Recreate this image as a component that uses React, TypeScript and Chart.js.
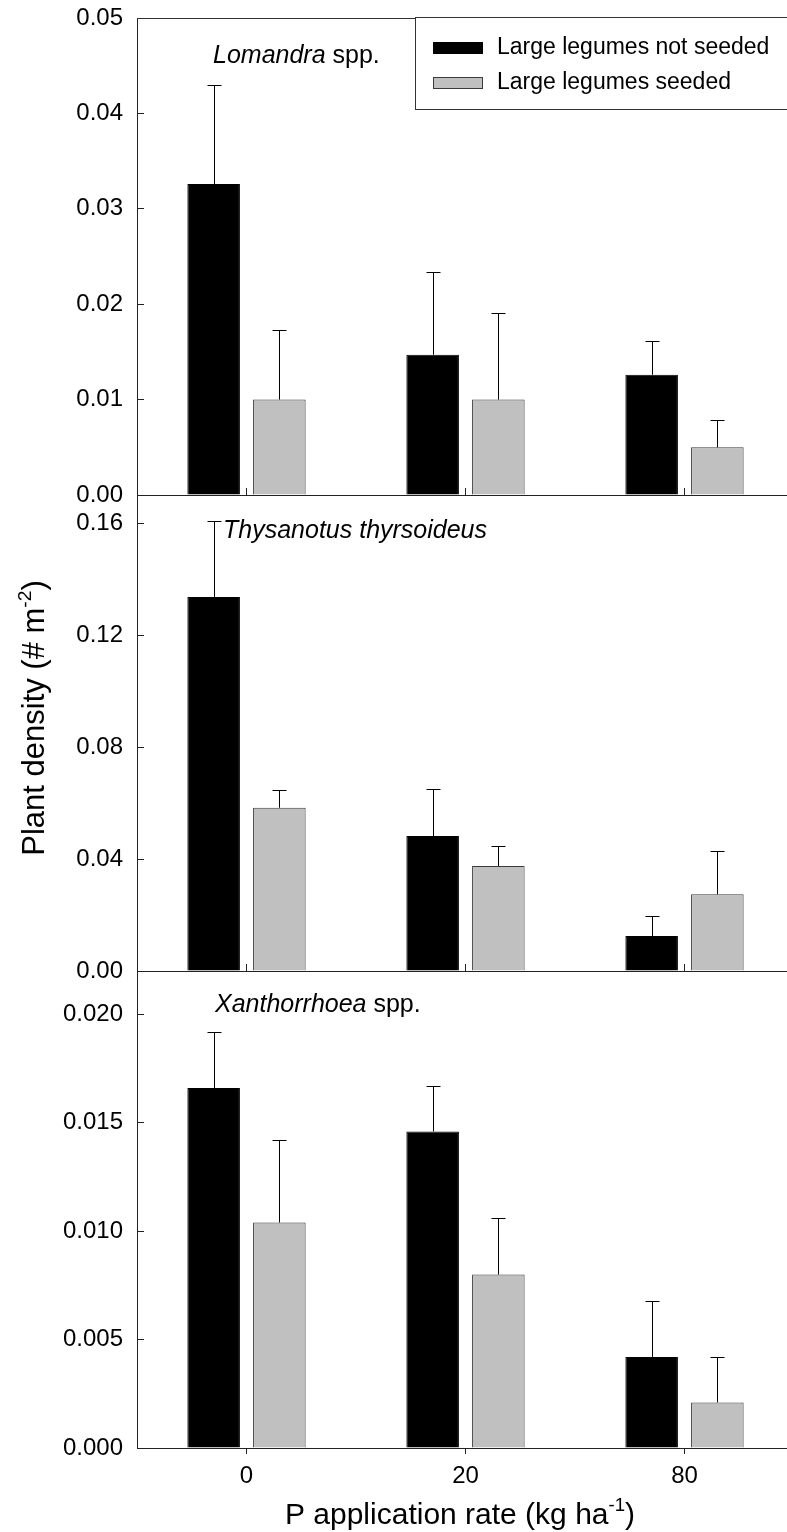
import React, { useEffect, useRef } from "react";
import { Chart, registerables } from "chart.js";

Chart.register(...registerables);

const FONT = '"Liberation Sans", Arial, Helvetica, sans-serif';

// ---------- data ----------
const categories = ["0", "20", "80"];
const seriesLabels = ["Large legumes not seeded", "Large legumes seeded"];

const lomandraNotSeeded = [0.0326, 0.0147, 0.0126];
const lomandraNotSeededErr = [0.0104, 0.0087, 0.0035];
const lomandraSeeded = [0.01, 0.01, 0.005];
const lomandraSeededErr = [0.0073, 0.0091, 0.0029];
const lomandraTicks = [0, 0.01, 0.02, 0.03, 0.04, 0.05];

const thysanotusNotSeeded = [0.1336, 0.0482, 0.0125];
const thysanotusNotSeededErr = [0.0272, 0.0168, 0.0073];
const thysanotusSeeded = [0.0583, 0.0375, 0.0274];
const thysanotusSeededErr = [0.0063, 0.0073, 0.0156];
const thysanotusTicks = [0, 0.04, 0.08, 0.12, 0.16];

const xanthorrhoeaNotSeeded = [0.0166, 0.0146, 0.0042];
const xanthorrhoeaNotSeededErr = [0.0026, 0.0021, 0.0026];
const xanthorrhoeaSeeded = [0.0104, 0.008, 0.0021];
const xanthorrhoeaSeededErr = [0.0038, 0.0026, 0.0021];
const xanthorrhoeaTicks = [0, 0.005, 0.01, 0.015, 0.02];

type Part = { t: string; italic?: boolean; sup?: boolean };

function drawRich(
  ctx: CanvasRenderingContext2D,
  parts: Part[],
  x: number,
  y: number,
  size: number,
  align: "left" | "center"
) {
  const supSize = size * 0.62;
  const fontFor = (p: Part) =>
    `${p.italic ? "italic " : ""}${p.sup ? supSize : size}px ${FONT}`;
  let total = 0;
  for (const p of parts) {
    ctx.font = fontFor(p);
    total += ctx.measureText(p.t).width;
  }
  let cx = align === "center" ? x - total / 2 : x;
  ctx.textAlign = "left";
  ctx.textBaseline = "alphabetic";
  for (const p of parts) {
    ctx.font = fontFor(p);
    ctx.fillText(p.t, cx, p.sup ? y - size * 0.42 : y);
    cx += ctx.measureText(p.t).width;
  }
}

type PanelProps = {
  top: number;
  height: number;
  padTop: number;
  padBottom: number;
  notSeeded: number[];
  notSeededErr: number[];
  seeded: number[];
  seededErr: number[];
  ticks: number[];
  max: number;
  decimals: number;
  label: Part[];
  labelX: number;
  labelY: number;
  showXLabels?: boolean;
  legend?: boolean;
  frameTop?: boolean;
  yTitle?: boolean;
  xTitle?: boolean;
};

function Panel(props: PanelProps) {
  const ref = useRef<HTMLCanvasElement | null>(null);
  useEffect(() => {
    const canvas = ref.current;
    if (!canvas) return;
    const {
      top, padTop, padBottom, notSeeded, notSeededErr, seeded, seededErr,
      ticks, max, decimals, label, labelX, labelY, showXLabels, legend,
      frameTop, yTitle, xTitle,
    } = props;

    const errorBars = {
      id: "errorBars",
      afterDatasetsDraw(chart: any) {
        const ctx: CanvasRenderingContext2D = chart.ctx;
        const ys = chart.scales.y;
        chart.data.datasets.forEach((ds: any, i: number) => {
          const meta = chart.getDatasetMeta(i);
          meta.data.forEach((bar: any, j: number) => {
            const v = ds.data[j];
            const e = ds.errors[j];
            const yTop = Math.round(ys.getPixelForValue(v + e)) + 0.5;
            const yBar = ys.getPixelForValue(v);
            const x = Math.round(bar.x) + 0.5;
            ctx.save();
            ctx.strokeStyle = "#000";
            ctx.lineWidth = 1;
            ctx.beginPath();
            ctx.moveTo(x, yBar);
            ctx.lineTo(x, yTop);
            ctx.moveTo(x - 7, yTop);
            ctx.lineTo(x + 7, yTop);
            ctx.stroke();
            ctx.restore();
          });
        });
      },
    };

    const decor = {
      id: "decor",
      afterDraw(chart: any) {
        const ctx: CanvasRenderingContext2D = chart.ctx;
        const ca = chart.chartArea;
        ctx.save();
        ctx.fillStyle = "#000";
        if (frameTop) {
          ctx.strokeStyle = "#333";
          ctx.lineWidth = 1;
          ctx.beginPath();
          ctx.moveTo(ca.left, Math.round(ca.top) + 0.5);
          ctx.lineTo(chart.width, Math.round(ca.top) + 0.5);
          ctx.stroke();
        }
        drawRich(ctx, label, labelX, labelY - top, 25, "left");
        if (legend) {
          const bx = 415.5;
          const by = 17.5 - top;
          ctx.fillStyle = "#fff";
          ctx.fillRect(bx, by, chart.width - bx + 5, 92);
          ctx.strokeStyle = "#333";
          ctx.lineWidth = 1;
          ctx.strokeRect(bx, by, chart.width - bx + 5, 92);
          const rows = [48, 83];
          chart.data.datasets.forEach((ds: any, i: number) => {
            const cy = rows[i] - top;
            ctx.fillStyle = ds.backgroundColor;
            ctx.fillRect(433, cy - 6, 50, 12);
            ctx.strokeStyle = ds.borderColor;
            ctx.strokeRect(433.5, cy - 5.5, 49, 11);
            ctx.fillStyle = "#000";
            ctx.font = `23px ${FONT}`;
            ctx.textAlign = "left";
            ctx.textBaseline = "middle";
            ctx.fillText(ds.label, 497, cy);
          });
        }
        if (yTitle) {
          ctx.save();
          ctx.fillStyle = "#000";
          ctx.translate(44, 718 - top);
          ctx.rotate(-Math.PI / 2);
          drawRich(
            ctx,
            [{ t: "Plant density (# m" }, { t: "-2", sup: true }, { t: ")" }],
            0, 0, 31, "center"
          );
          ctx.restore();
        }
        if (xTitle) {
          ctx.fillStyle = "#000";
          drawRich(
            ctx,
            [{ t: "P application rate (kg ha" }, { t: "-1", sup: true }, { t: ")" }],
            460, 1524 - top, 30, "center"
          );
        }
        ctx.restore();
      },
    };

    const chart = new Chart(canvas, {
      type: "bar",
      data: {
        labels: categories,
        datasets: [
          {
            label: seriesLabels[0],
            data: notSeeded,
            errors: notSeededErr,
            backgroundColor: "#000000",
            borderColor: "#000000",
            borderWidth: 1,
            categoryPercentage: 0.6,
            barPercentage: 0.8,
          } as any,
          {
            label: seriesLabels[1],
            data: seeded,
            errors: seededErr,
            backgroundColor: "#c0c0c0",
            borderColor: "#3a3a3a",
            borderWidth: 1,
            categoryPercentage: 0.6,
            barPercentage: 0.8,
          } as any,
        ],
      },
      options: {
        responsive: false,
        animation: false,
        devicePixelRatio: 1,
        layout: { padding: { top: padTop, bottom: padBottom, left: 0, right: 6 } },
        plugins: { legend: { display: false }, tooltip: { enabled: false } },
        scales: {
          x: {
            type: "category",
            offset: true,
            grid: {
              offset: false,
              drawOnChartArea: false,
              drawTicks: true,
              tickLength: showXLabels ? 6 : -7,
              color: "#222",
            },
            border: { display: true, color: "#222", width: 1 },
            ticks: {
              display: !!showXLabels,
              padding: 8,
              color: "#000",
              font: { family: FONT, size: 24 },
            },
            afterFit: (s: any) => {
              s.height = showXLabels ? 84 : 0;
            },
          },
          y: {
            type: "linear",
            min: 0,
            max: max,
            grid: { drawOnChartArea: false, tickLength: -7, color: "#222" },
            border: { display: true, color: "#222", width: 1 },
            ticks: {
              padding: 21,
              color: "#000",
              font: { family: FONT, size: 24 },
              callback: (v: any) => Number(v).toFixed(decimals),
            },
            afterBuildTicks: (s: any) => {
              s.ticks = ticks.map((v) => ({ value: v }));
            },
            afterFit: (s: any) => {
              s.width = 137;
            },
          },
        },
      } as any,
      plugins: [errorBars, decor],
    });
    return () => chart.destroy();
  }, []);

  return (
    <canvas
      ref={ref}
      width={800}
      height={props.height}
      style={{ position: "absolute", left: 0, top: props.top, width: 800, height: props.height }}
    />
  );
}

export default function App() {
  return (
    <div
      style={{
        position: "absolute",
        left: 0,
        top: 0,
        width: 787,
        height: 1532,
        overflow: "hidden",
        background: "#fff",
      }}
    >
      <Panel
        top={-50}
        height={595}
        padTop={68}
        padBottom={50}
        notSeeded={lomandraNotSeeded}
        notSeededErr={lomandraNotSeededErr}
        seeded={lomandraSeeded}
        seededErr={lomandraSeededErr}
        ticks={lomandraTicks}
        max={0.05}
        decimals={2}
        label={[{ t: "Lomandra", italic: true }, { t: " spp." }]}
        labelX={213}
        labelY={63}
        legend
        frameTop
      />
      <Panel
        top={445}
        height={576}
        padTop={50}
        padBottom={50}
        notSeeded={thysanotusNotSeeded}
        notSeededErr={thysanotusNotSeededErr}
        seeded={thysanotusSeeded}
        seededErr={thysanotusSeededErr}
        ticks={thysanotusTicks}
        max={0.17}
        decimals={2}
        label={[{ t: "Thysanotus thyrsoideus", italic: true }]}
        labelX={223}
        labelY={538}
        yTitle
      />
      <Panel
        top={921}
        height={611}
        padTop={50}
        padBottom={0}
        notSeeded={xanthorrhoeaNotSeeded}
        notSeededErr={xanthorrhoeaNotSeededErr}
        seeded={xanthorrhoeaSeeded}
        seededErr={xanthorrhoeaSeededErr}
        ticks={xanthorrhoeaTicks}
        max={0.022}
        decimals={3}
        label={[{ t: "Xanthorrhoea", italic: true }, { t: " spp." }]}
        labelX={215}
        labelY={1012}
        showXLabels
        xTitle
      />
    </div>
  );
}
